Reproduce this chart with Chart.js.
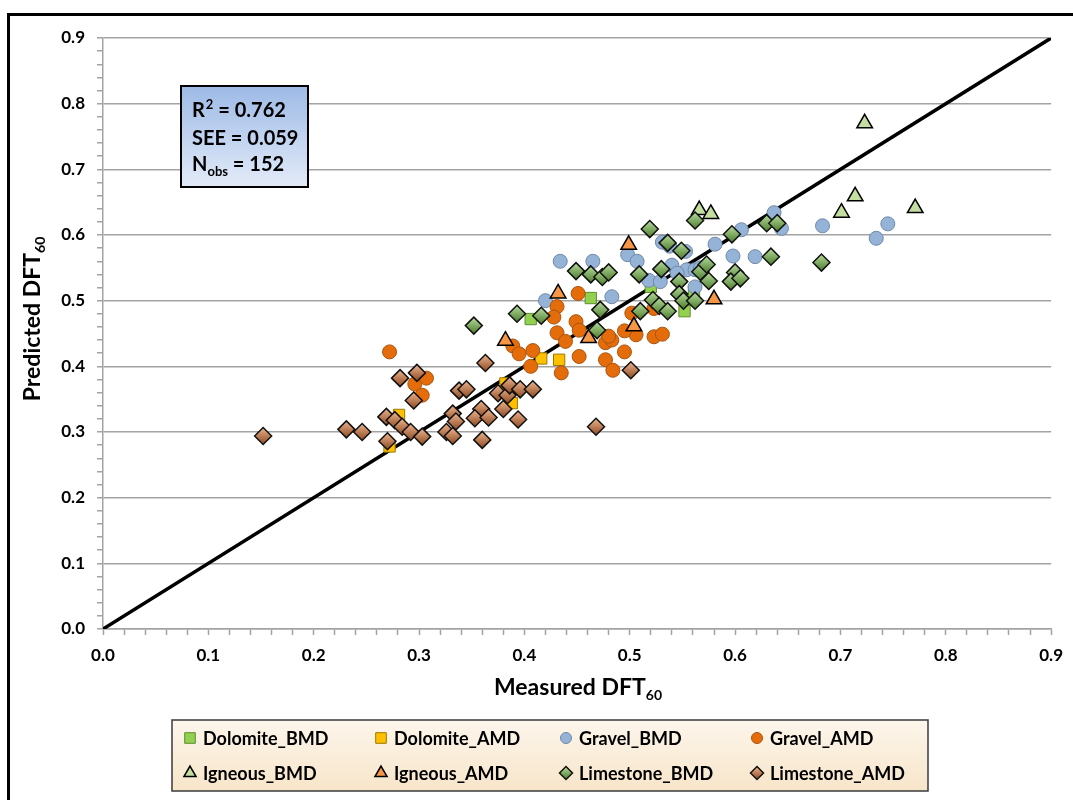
<!DOCTYPE html>
<html>
<head>
<meta charset="utf-8">
<title>Predicted vs Measured DFT60</title>
<script src="https://cdn.jsdelivr.net/npm/chart.js@4.4.1/dist/chart.umd.min.js"></script>
<style>
  html, body { margin: 0; padding: 0; background: #fff; }
  #wrap { position: relative; width: 1073px; height: 800px; overflow: hidden; }
  #frame { position: absolute; left: 7px; top: 13px; width: 1100px; height: 830px; border: 3px solid #000; box-sizing: border-box; pointer-events: none; }
  canvas { position: absolute; left: 0; top: 0; }
</style>
</head>
<body>
<div id="wrap">
  <canvas id="js--chart" width="1073" height="800"></canvas>
  <div id="frame"></div>
</div>
<script>
// measured (x) and predicted (y) DFT60
const dolomiteBmdX = [0.406, 0.463, 0.520, 0.552, 0.561];
const dolomiteBmdY = [0.472, 0.504, 0.521, 0.484, 0.514];

const dolomiteAmdX = [0.281, 0.272, 0.416, 0.433, 0.388, 0.382];
const dolomiteAmdY = [0.326, 0.278, 0.412, 0.410, 0.344, 0.374];

const gravelBmdX = [0.434, 0.465, 0.420, 0.483, 0.498, 0.507, 0.531, 0.538, 0.540, 0.554, 0.562, 0.581, 0.518,
    0.529, 0.553, 0.562, 0.545, 0.567, 0.637, 0.644, 0.606, 0.598, 0.619, 0.683, 0.734, 0.745];
const gravelBmdY = [0.560, 0.560, 0.500, 0.506, 0.570, 0.560, 0.589, 0.583, 0.554, 0.547, 0.547, 0.586, 0.531,
    0.529, 0.575, 0.521, 0.542, 0.550, 0.634, 0.610, 0.608, 0.568, 0.567, 0.614, 0.595, 0.617];

const gravelAmdX = [0.272, 0.296, 0.307, 0.303, 0.431, 0.428, 0.431, 0.439, 0.389, 0.395, 0.408, 0.406, 0.435,
    0.451, 0.449, 0.452, 0.452, 0.477, 0.483, 0.480, 0.495, 0.477, 0.484, 0.502, 0.506, 0.495, 0.523, 0.531, 0.523];
const gravelAmdY = [0.422, 0.373, 0.382, 0.356, 0.491, 0.475, 0.451, 0.438, 0.431, 0.419, 0.424, 0.400, 0.390,
    0.511, 0.468, 0.455, 0.415, 0.436, 0.440, 0.446, 0.422, 0.410, 0.394, 0.481, 0.448, 0.454, 0.445, 0.449, 0.488];

const igneousBmdX = [0.701, 0.714, 0.723, 0.771, 0.566, 0.577];
const igneousBmdY = [0.634, 0.659, 0.770, 0.641, 0.638, 0.632];

const igneousAmdX = [0.432, 0.382, 0.461, 0.504, 0.499, 0.580];
const igneousAmdY = [0.511, 0.439, 0.443, 0.461, 0.585, 0.502];

const limestoneBmdX = [0.352, 0.393, 0.416, 0.449, 0.463, 0.474, 0.480, 0.472, 0.469, 0.509, 0.510, 0.530, 0.522,
    0.528, 0.536, 0.519, 0.536, 0.549, 0.562, 0.547, 0.567, 0.573, 0.575, 0.547, 0.551, 0.562, 0.597, 0.630,
    0.640, 0.634, 0.682, 0.600, 0.596, 0.605];
const limestoneBmdY = [0.462, 0.480, 0.477, 0.545, 0.540, 0.536, 0.543, 0.486, 0.455, 0.540, 0.484, 0.548, 0.501,
    0.492, 0.484, 0.609, 0.588, 0.576, 0.622, 0.529, 0.544, 0.555, 0.530, 0.510, 0.500, 0.500, 0.601, 0.618,
    0.618, 0.567, 0.558, 0.543, 0.529, 0.534];

const limestoneAmdX = [0.152, 0.231, 0.246, 0.270, 0.269, 0.277, 0.284, 0.292, 0.303, 0.282, 0.298, 0.295, 0.332,
    0.335, 0.326, 0.332, 0.338, 0.345, 0.363, 0.359, 0.353, 0.366, 0.360, 0.375, 0.384, 0.386, 0.380, 0.394,
    0.396, 0.408, 0.501, 0.468];
const limestoneAmdY = [0.294, 0.304, 0.300, 0.286, 0.323, 0.318, 0.308, 0.300, 0.293, 0.382, 0.390, 0.348, 0.328,
    0.316, 0.300, 0.294, 0.363, 0.365, 0.405, 0.335, 0.321, 0.322, 0.288, 0.359, 0.356, 0.371, 0.335, 0.319,
    0.365, 0.365, 0.394, 0.308];

// 1:1 line
const lineX = [0, 0.9];
const lineY = [0, 0.9];

const statLines = ["0.762", "0.059", "152"];

function pts(xs, ys) {
    return xs.map(function (x, i) { return { x: x, y: ys[i] }; });
}

// vertical gradient per marker, like the shaded diamonds in the original
function shaded(top, bottom, r) {
    return function (c) {
        if (c.type !== 'data' || !c.chart.scales.y) return bottom;
        const py = c.chart.scales.y.getPixelForValue(c.raw.y);
        if (!isFinite(py)) return bottom;
        const g = c.chart.ctx.createLinearGradient(0, py - r, 0, py + r);
        g.addColorStop(0, top);
        g.addColorStop(1, bottom);
        return g;
    };
}

const series = [
    { label: 'Dolomite_BMD', xs: dolomiteBmdX, ys: dolomiteBmdY, style: 'rect', r: 8, bg: '#92d050', bd: '#5e8f2d', bw: 1, lr: 7.5 },
    { label: 'Dolomite_AMD', xs: dolomiteAmdX, ys: dolomiteAmdY, style: 'rect', r: 8, bg: '#ffc000', bd: '#9c7800', bw: 1, lr: 7.5 },
    { label: 'Gravel_BMD', xs: gravelBmdX, ys: gravelBmdY, style: 'circle', r: 7, bg: '#95b3d7', bd: '#7088a8', bw: 1, lr: 5.5 },
    { label: 'Gravel_AMD', xs: gravelAmdX, ys: gravelAmdY, style: 'circle', r: 7, bg: '#e46c0a', bd: '#a85510', bw: 1, lr: 5.5 },
    { label: 'Igneous_BMD', xs: igneousBmdX, ys: igneousBmdY, style: 'triangle', r: 9, bg: '#c3dea0', bd: '#000', bw: 1.5, lr: 7 },
    { label: 'Igneous_AMD', xs: igneousAmdX, ys: igneousAmdY, style: 'triangle', r: 9, bg: '#f79646', bd: '#000', bw: 1.5, lr: 7 },
    { label: 'Limestone_BMD', xs: limestoneBmdX, ys: limestoneBmdY, style: 'rectRot', r: 8.5, top: '#b7dc9e', bottom: '#4b7c2b', bd: '#111', bw: 1.5, lr: 6.5 },
    { label: 'Limestone_AMD', xs: limestoneAmdX, ys: limestoneAmdY, style: 'rectRot', r: 8.5, top: '#eeb590', bottom: '#8c4920', bd: '#111', bw: 1.5, lr: 6.5 }
];

const datasets = series.map(function (s, i) {
    return {
        type: 'scatter',
        label: s.label,
        data: pts(s.xs, s.ys),
        pointStyle: s.style,
        pointRadius: s.r,
        pointBackgroundColor: s.top ? shaded(s.top, s.bottom, s.r) : s.bg,
        pointBorderColor: s.bd,
        pointBorderWidth: s.bw,
        order: series.length - i
    };
});

datasets.push({
    type: 'line',
    label: '1:1',
    data: pts(lineX, lineY),
    borderColor: '#000',
    borderWidth: 3.5,
    pointRadius: 0,
    order: 20
});

function isMajor(v) {
    return Math.abs(v * 10 - Math.round(v * 10)) < 1e-6;
}
function tickLabel(v) {
    return isMajor(v) ? (Math.round(v * 10) / 10).toFixed(1) : '';
}

const FONT = 'Lato, "Open Sans", sans-serif';
const gridGray = '#a3a3a3';

function subText(ctx, main, sub, x, y, size, subSize, dy) {
    ctx.font = 'bold ' + size + 'px ' + FONT;
    const w1 = ctx.measureText(main).width;
    ctx.font = 'bold ' + subSize + 'px ' + FONT;
    const w2 = ctx.measureText(sub).width;
    const start = x - (w1 + w2) / 2;
    ctx.textAlign = 'left';
    ctx.font = 'bold ' + size + 'px ' + FONT;
    ctx.fillText(main, start, y);
    ctx.font = 'bold ' + subSize + 'px ' + FONT;
    ctx.fillText(sub, start + w1, y + dy);
}

const extras = {
    id: 'extras',
    afterDraw(chart) {
        const ctx = chart.ctx;
        ctx.save();
        ctx.fillStyle = '#000';
        ctx.textBaseline = 'alphabetic';

        // axis titles
        subText(ctx, 'Measured DFT', '60', 578, 695, 23, 14, 5);
        ctx.save();
        ctx.translate(40, 319);
        ctx.rotate(-Math.PI / 2);
        subText(ctx, 'Predicted DFT', '60', 0, 0, 23, 14, 5);
        ctx.restore();

        // stats box
        const bx = 181, by = 86, bwid = 127, bh = 101;
        let g = ctx.createLinearGradient(0, by, 0, by + bh);
        g.addColorStop(0, '#9dbae6');
        g.addColorStop(1, '#e3ebf8');
        ctx.fillStyle = g;
        ctx.fillRect(bx, by, bwid, bh);
        ctx.strokeStyle = '#000';
        ctx.lineWidth = 2;
        ctx.strokeRect(bx, by, bwid, bh);

        ctx.fillStyle = '#000';
        ctx.textAlign = 'left';
        const tx = 192;
        ctx.font = 'bold 20px ' + FONT;
        ctx.fillText('R', tx, 117);
        let w = ctx.measureText('R').width;
        ctx.font = 'bold 13px ' + FONT;
        ctx.fillText('2', tx + w + 1, 109);
        w += ctx.measureText('2').width + 1;
        ctx.font = 'bold 20px ' + FONT;
        ctx.fillText(' = ' + statLines[0], tx + w, 117);
        ctx.fillText('SEE = ' + statLines[1], tx, 145);
        ctx.fillText('N', tx, 171);
        w = ctx.measureText('N').width;
        ctx.font = 'bold 13px ' + FONT;
        ctx.fillText('obs', tx + w, 176);
        w += ctx.measureText('obs').width;
        ctx.font = 'bold 20px ' + FONT;
        ctx.fillText(' = ' + statLines[2], tx + w, 171);

        // legend
        const lx = 172, ly = 720, lw = 756, lh = 71;
        g = ctx.createLinearGradient(0, ly, 0, ly + lh);
        g.addColorStop(0, '#fdf6ec');
        g.addColorStop(1, '#f7e5c9');
        ctx.fillStyle = g;
        ctx.fillRect(lx, ly, lw, lh);
        ctx.strokeStyle = '#3a3a3a';
        ctx.lineWidth = 1.5;
        ctx.strokeRect(lx, ly, lw, lh);

        const colX = [190, 381, 566, 757];
        const rowY = [738, 773];
        series.forEach(function (s, i) {
            const mx = colX[i % 4], my = rowY[i < 4 ? 0 : 1];
            if (s.top) {
                const lg = ctx.createLinearGradient(0, my - s.lr, 0, my + s.lr);
                lg.addColorStop(0, s.top);
                lg.addColorStop(1, s.bottom);
                ctx.fillStyle = lg;
            } else {
                ctx.fillStyle = s.bg;
            }
            ctx.strokeStyle = s.bd;
            ctx.lineWidth = s.bw;
            Chart.helpers.drawPoint(ctx, { pointStyle: s.style, radius: s.lr, borderWidth: s.bw, rotation: 0 }, mx, my);
            ctx.fillStyle = '#000';
            ctx.font = 'bold 18px ' + FONT;
            ctx.textBaseline = 'middle';
            ctx.textAlign = 'left';
            ctx.fillText(s.label, mx + 13, my + 1);
        });
        ctx.restore();
    }
};

new Chart(document.getElementById('js--chart'), {
    type: 'scatter',
    data: { datasets: datasets },
    options: {
        responsive: false,
        animation: false,
        devicePixelRatio: 1,
        events: [],
        layout: { padding: { left: 0, right: 20, top: 38, bottom: 0 } },
        plugins: { legend: { display: false }, tooltip: { enabled: false } },
        scales: {
            x: {
                type: 'linear',
                min: 0,
                max: 0.9,
                afterFit: function (s) { s.height = 171; },
                border: { display: true, color: gridGray, width: 1.5 },
                grid: { drawOnChartArea: false, drawTicks: true, tickLength: 6, tickColor: gridGray, tickWidth: 1.5 },
                ticks: {
                    stepSize: 0.02, autoSkip: false, maxRotation: 0, padding: 10,
                    color: '#000', font: { family: FONT, size: 17, weight: 'bold' },
                    callback: tickLabel
                }
            },
            y: {
                type: 'linear',
                min: 0,
                max: 0.9,
                afterFit: function (s) { s.width = 103; },
                border: { display: true, color: gridGray, width: 1.5 },
                grid: {
                    color: function (c) { return c.tick && isMajor(c.tick.value) ? gridGray : 'rgba(0,0,0,0)'; },
                    lineWidth: 1.5, tickLength: 6, tickColor: gridGray, tickWidth: 1.5
                },
                ticks: {
                    stepSize: 0.02, autoSkip: false, padding: 12,
                    color: '#000', font: { family: FONT, size: 17, weight: 'bold' },
                    callback: tickLabel
                }
            }
        }
    },
    plugins: [extras]
});
</script>
</body>
</html>
